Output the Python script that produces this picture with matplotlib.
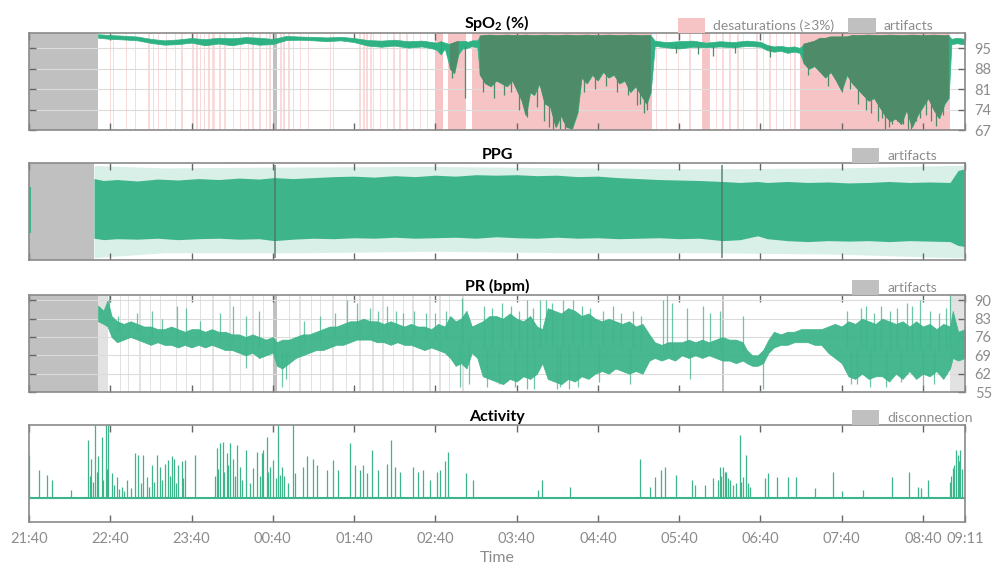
import numpy as np
import matplotlib
matplotlib.use('Agg')
import matplotlib.pyplot as plt
from matplotlib.patches import Patch

plt.rcParams['font.family'] = ['Lato', 'DejaVu Sans']
plt.rcParams['mathtext.fontset'] = 'custom'
plt.rcParams['mathtext.rm'] = 'Lato'
plt.rcParams['mathtext.bf'] = 'Lato:bold'

# time in minutes after 21:40
tick_min = [0, 60, 120, 180, 240, 300, 360, 420, 480, 540, 600, 660, 691]
tick_labels = ['21:40', '22:40', '23:40', '00:40', '01:40', '02:40', '03:40',
               '04:40', '05:40', '06:40', '07:40', '08:40', '09:11']
t_end = 691

# ---- SpO2 (upper / lower envelope)
spo2_t = [51, 60, 70, 80, 90, 100, 110, 120, 130, 140, 150, 160, 170, 180, 190, 200, 210, 220, 230, 240,
          250, 260, 270, 280, 290, 298,
          301, 304, 307, 311, 314, 317, 320, 322, 324, 327, 331, 333, 337, 341, 345, 349, 353, 357, 361, 364,
          367, 370, 373, 377, 381, 385, 389, 393, 397, 401, 405, 408, 412, 416, 420, 424, 428, 432, 436, 440,
          444, 448, 452, 456, 459,
          462, 470, 480, 490, 500, 510, 520, 530, 540, 545, 550, 555, 560, 565, 569,
          572, 576, 580, 584, 588, 592, 596, 600, 604, 608, 612, 616, 620, 624, 628, 632, 636, 640, 644, 648,
          652, 656, 660, 664, 668, 672, 676, 679,
          681, 685, 691]
spo2_hi = [99.9, 99.6, 99.4, 99.1, 98.3, 97.8, 98.1, 98.6, 98.2, 98.7, 98.5, 98.9, 98.7, 98.3, 99.3, 99.1,
           99.0, 98.8, 99.0, 98.6, 97.9, 97.7, 98.0, 97.5, 97.7, 97.2,
           97, 97.5, 97, 96.5, 97, 97.5, 97.6, 97.6, 97.3, 97.8, 97.8, 99.3, 99.5, 99.6, 99.4, 99.5, 99.6, 99.5,
           99.4, 99.5, 99.6, 99.5, 99.4, 99.5, 99.6, 99.5, 99.4, 99.5, 99.6, 99.5, 99.4, 99.5, 99.6, 99.5,
           99.4, 99.5, 99.6, 99.5, 99.4, 99.5, 99.6, 99.5, 99.4, 99.5, 99.5,
           97.7, 97.2, 97.5, 97.7, 97.0, 97.5, 97.2, 97.7, 97.3, 96.2, 95.7, 95.9, 95.5, 95.7, 95.2,
           96.5, 97, 97.5, 98.5, 98.5, 99, 99, 99, 99, 99.5, 99.4, 99.5, 99.6, 99.5, 99.4, 99.5, 99.6, 99.5,
           99.4, 99.5, 99.6, 99.5, 99.4, 99.5, 99.6, 99.5, 99.4, 99.5,
           98.3, 98.7, 98.3]
spo2_lo = [98.7, 98.3, 98.1, 97.8, 96.9, 96.3, 96.5, 97.0, 96.1, 96.7, 96.1, 96.9, 96.3, 96.5, 97.9, 98.0,
           97.8, 97.5, 97.8, 97.2, 96.0, 95.6, 96.0, 95.3, 95.7, 95.0,
           94.5, 93, 95, 88, 86.5, 93, 95.0, 95.0, 95.3, 95.8, 95.4, 86, 83, 82, 84, 83, 82, 84, 80, 77,
           72, 80, 79, 83, 76, 75, 68, 72, 68, 67.5, 73, 85, 83, 86, 84, 87, 85, 86, 83, 84,
           80, 82, 79, 76, 80,
           95.9, 95.4, 95.0, 95.6, 95.4, 95.7, 95.4, 95.9, 95.6, 94.4, 93.9, 94.2, 93.5, 93.9, 93.5,
           90, 88, 89, 87, 85, 87, 84, 80.5, 86, 83, 81, 79, 77, 78, 75, 72, 70, 71, 69, 74,
           68, 72, 75, 78, 74, 71, 76, 78,
           96.5, 96.8, 96.4]
# single deep needles inside the dense parts
spo2_dip_t = [312, 322, 335, 343, 351, 356, 362, 366, 368, 375, 380, 384, 387, 390, 392, 394, 396, 398, 400,
              403, 410, 418, 426, 434, 442, 449, 451, 454, 456,
              478, 494, 505, 521, 547,
              575, 590, 600, 606, 612, 618, 622, 627, 630, 632, 635, 637, 641, 645, 649, 651, 655, 658, 662,
              666, 670, 675]
spo2_dip_v = [85, 78, 80, 78, 79, 80, 74, 73, 71.5, 75, 70, 68, 67, 69, 67.5, 70, 67, 69, 67.2,
              71, 80, 81, 82, 80, 79, 75.5, 76, 73, 74,
              93.5, 93, 92.5, 93.5, 92,
              86, 82, 80, 81, 76, 74, 73, 70, 71, 67.5, 68, 69, 70, 69, 67.5, 67.2, 70, 71, 72,
              70, 68.5, 72]

desat_bands = [(59.5, 60.5), (62, 63), (71.5, 72.5), (78, 79), (88, 89), (91.5, 92.5), (95, 96), (101, 102),
               (107.5, 108.5), (112, 113.5), (120.5, 122), (123.5, 124.5), (126, 127), (129, 130),
               (132, 133.5), (135.5, 137), (140.5, 142), (144, 145.5), (150.5, 151.5), (155.5, 156.5),
               (161.5, 162.5), (165, 166.5), (170, 171), (175, 176), (177.5, 178.5), (185, 186.5),
               (187.5, 189), (191, 192.5), (195, 196), (200, 201), (206, 207), (222, 223), (224.5, 225.5),
               (244, 245.5), (246.5, 248), (249, 250.5), (251.5, 253), (254, 255), (259, 260), (264, 265),
               (269, 270), (273.5, 274.5), (278.5, 279.5), (283.5, 284.5), (288.5, 289.5), (293.5, 294.5),
               (300, 306), (309, 323), (327, 460),
               (463, 464), (470, 471), (479, 480), (487.5, 488.5), (497, 503), (507, 508), (512, 513),
               (517, 518), (523, 524), (527, 528), (537, 538), (542, 543), (546.5, 547.5), (551.5, 552.5),
               (556.5, 557.5), (561.5, 562.5), (565, 566), (569, 680)]
spo2_artifacts = [(0, 51), (180, 183)]

# ---- PPG (arbitrary units)
ppg_t = [48, 55, 65, 80, 95, 110, 125, 140, 155, 170, 181, 195, 210, 225, 240, 255, 270, 285, 300, 315,
         330, 345, 360, 375, 390, 405, 420, 435, 450, 465, 480, 495, 512, 525, 538, 545, 560, 575, 590, 605,
         620, 635, 650, 665, 680, 686, 691]
ppg_hi = [0.68, 0.64, 0.66, 0.63, 0.67, 0.65, 0.68, 0.66, 0.69, 0.67, 0.70, 0.68, 0.7, 0.72, 0.73, 0.71,
          0.74, 0.72, 0.75, 0.73, 0.76, 0.75, 0.76, 0.74, 0.75, 0.72, 0.73, 0.7, 0.68, 0.66, 0.65, 0.64,
          0.62, 0.6, 0.62, 0.6, 0.62, 0.6, 0.61, 0.59, 0.6, 0.62, 0.6, 0.61, 0.6, 0.85, 0.88]
ppg_lo = [-0.55, -0.58, -0.56, -0.57, -0.55, -0.58, -0.56, -0.55, -0.57, -0.56, -0.6, -0.57, -0.55, -0.56,
          -0.54, -0.55, -0.53, -0.55, -0.54, -0.53, -0.55, -0.52, -0.54, -0.55, -0.53, -0.55, -0.54, -0.56,
          -0.55, -0.54, -0.56, -0.55, -0.6, -0.58, -0.5, -0.56, -0.6, -0.62, -0.6, -0.61, -0.6, -0.62,
          -0.6, -0.61, -0.62, -0.7, -0.72]
ppg_out_t = [48, 100, 200, 300, 400, 500, 600, 680, 691]
ppg_out_hi = [0.95, 0.9, 0.92, 0.93, 0.9, 0.88, 0.9, 0.95, 0.95]
ppg_out_lo = [-0.95, -0.85, -0.85, -0.82, -0.85, -0.85, -0.88, -0.95, -0.95]
ppg_first = (0.6, -0.45, 0.5)
ppg_artifacts = [(0, 48)]
ppg_dark = [181.5, 512]

# ---- PR (bpm)
pr_t = [51, 55, 58, 61, 65, 70, 75, 80, 85, 90, 95, 100, 105, 110, 115, 120, 125, 130, 135, 140, 145, 150,
        155, 160, 165, 170, 175, 180, 183, 187, 192, 197, 202, 207, 212, 217, 222, 227, 232, 237, 242, 247,
        252, 257, 262, 267, 272, 277, 282, 287, 292, 297, 302, 307, 311, 315, 319, 323, 327, 331, 335, 340,
        345, 350, 355, 360, 365, 370, 375, 379, 383, 388, 393, 398, 403, 408, 413, 418, 423, 428, 433, 438,
        443, 448, 453, 458, 462, 467, 472, 477, 482, 487, 492, 497, 502, 507, 512, 517, 522, 527, 530, 534,
        538, 542, 546, 550, 555, 560, 565, 570, 575, 580, 585, 590, 595, 600, 605, 610, 615, 620, 625, 630,
        635, 640, 645, 650, 655, 660, 665, 670, 675, 680, 682, 686, 691]
pr_lo = [82, 81, 80, 76, 74, 75, 76, 75, 74, 73, 74, 73, 73, 72, 73, 72, 73, 72, 73, 72, 71, 71, 70, 69, 70,
         68, 69, 70, 65, 64, 66, 68, 69, 70, 71, 71, 72, 73, 73, 74, 75, 75, 75, 74, 74, 73, 74, 73, 73, 72,
         71, 72, 71, 70, 68, 65, 66, 64, 70, 68, 61, 60, 59, 58, 60, 59, 61, 60, 62, 66, 60, 59, 58, 60, 59,
         61, 60, 62, 63, 62, 64, 63, 62, 63, 62, 67, 68, 67, 68, 67, 69, 68, 69, 68, 69, 68, 67, 67, 66, 67,
         66, 65, 65, 66, 70, 72, 73, 73, 74, 74, 74, 73, 73, 70, 68, 66, 61, 60, 62, 60, 61, 61, 59, 62, 60,
         63, 60, 62, 61, 63, 60, 64, 68, 67, 68]
pr_hi = [88, 86, 90, 84, 82, 81, 82, 81, 80, 80, 79, 79, 80, 79, 78, 79, 79, 78, 79, 78, 78, 77, 77, 76, 77,
         76, 75, 76, 74, 75, 75, 76, 77, 77, 78, 79, 80, 80, 81, 82, 82, 83, 82, 82, 81, 82, 81, 80, 81, 80,
         80, 79, 81, 80, 84, 82, 83, 86, 80, 81, 82, 84, 84, 83, 85, 83, 82, 84, 80, 79, 87, 86, 85, 87, 86,
         84, 85, 83, 82, 83, 82, 81, 82, 80, 81, 77, 74, 73, 74, 74, 74, 75, 74, 75, 74, 75, 76, 75, 75, 74,
         71, 69, 69, 71, 75, 78, 77, 78, 78, 79, 79, 79, 79, 80, 81, 80, 82, 81, 83, 82, 81, 83, 82, 81, 82,
         80, 82, 80, 81, 79, 81, 80, 86, 78, 79]
pr_spike_t = [59, 80, 90.5, 109, 116, 141, 151, 160, 170, 234.5, 242, 264, 271, 284, 293,
              160.5, 186.5, 190, 325, 320, 367.5, 377, 382, 401.5, 318, 368, 389.7, 399,
              468, 471, 475, 485.6, 497.5, 502.6, 510, 527, 488, 542,
              618, 648, 658, 680, 611, 660,
              66, 98, 126, 203, 215, 226, 252, 258, 276, 300, 308,
              336, 342, 349, 356, 362, 372, 386, 394, 408, 414, 424, 431, 437, 446, 452,
              604, 614, 624, 629, 636, 641, 652, 665, 672, 677,
              338, 347, 359, 373, 392, 405, 421, 444, 607, 621, 633, 644, 668]
pr_spike_v = [92, 85, 86, 88, 87, 85, 88, 84, 86, 90, 89, 88, 86, 86, 85,
              64, 57, 60, 58, 91, 90, 90, 90, 90, 57, 56, 56, 56,
              90, 92, 89, 87, 88, 85, 86, 84, 60, 56,
              88, 89, 90, 92, 58, 57,
              84, 83, 82, 82, 84, 85, 87, 86, 85, 85, 86,
              88, 87, 89, 88, 86, 87, 89, 90, 88, 87, 86, 88, 85, 86, 84,
              86, 87, 85, 88, 86, 87, 88, 86, 85, 87,
              57, 58, 57, 56, 57, 57, 59, 58, 58, 57, 57, 59, 58]
pr_artifacts = [(0, 51), (180, 183), (511.5, 513)]
pr_light = [(51, 58), (67, 68), (73, 74), (81.5, 82.5), (89, 90), (96.5, 97.5), (108.5, 109.5), (116, 117),
            (126, 127), (135.5, 136.5), (147.5, 149.5), (155.5, 156.5), (165, 166), (172.5, 173.5),
            (192, 193), (199.5, 200.5), (208, 209), (214.5, 215.5), (224, 225), (234, 235), (244, 245),
            (253.5, 254.5), (261, 262), (268.5, 269.5), (276, 277), (283, 284), (295.5, 296.5),
            (303, 304), (310, 311), (320, 321), (680, 690)]

# ---- Activity (arbitrary units, baseline 0)
act_t = [0.2, 7.6, 13.0, 16.7, 31.0, 43.8, 45.5, 48.7, 51.2, 53.6, 56.8, 58.6, 61.0, 64.7, 68.4, 72.1, 78.2,
         80.7, 84.4, 86.9, 90.5, 94.7, 96.7, 100.4, 102.8, 105.3, 107.0, 110.2, 112.7, 115.2, 122.5, 138.5,
         141.0, 142.9, 145.9, 148.4, 150.8, 153.8, 155.7, 160.6, 165.6, 168.0, 171.7, 173.0, 175.4, 177.9,
         180.3, 184.0, 186.5, 194.6, 196.3, 202.5, 205.0, 209.9, 212.3, 219.7, 224.6, 228.3, 236.9, 240.6,
         244.3, 246.8, 249.2, 252.9, 257.8, 264.0, 267.6, 270.1, 273.8, 283.6, 287.3, 291.0, 296.0, 300.9,
         303.4, 307.1, 309.5, 323.0, 328.0,
         375.9, 379.1, 399.2, 450.9, 458.3, 462.0, 466.9, 469.4, 477.5, 489.5, 491.5, 498.9, 505.0, 509.9,
         512.4, 514.9, 517.3, 521.8, 524.7, 527.2, 529.1, 532.1, 543.2, 545.6, 552.3, 560.4, 566.0, 580.1,
         593.6, 600.5, 615.7, 637.4, 649.7, 656.3, 658.8, 663.7, 679.7, 682.1, 684.6, 685.8, 687.6, 690.8,
         # denser small movements inside the busy stretches
         44.8, 47.2, 50.0, 55.0, 57.7, 63.0, 66.5, 70.2, 75.5, 82.5, 88.5, 92.5, 98.5, 104.0, 108.8, 114.0,
         137.2, 139.8, 144.2, 147.0, 152.3, 157.5, 163.0, 170.2, 176.6, 182.5, 185.3, 188.0, 191.2,
         508.5, 511.0, 513.6, 516.0, 519.5, 526.0, 530.5, 681.0, 683.3, 686.8, 689.0]
act_h = [0.59, 0.38, 0.32, 0.25, 0.11, 0.79, 0.54, 1.0, 0.57, 0.84, 1.0, 1.0, 0.34, 0.29, 0.15, 0.25, 0.61,
         0.59, 0.59, 0.29, 0.45, 0.59, 0.43, 0.47, 0.52, 0.57, 0.54, 0.45, 0.50, 0.52, 0.59, 0.68,
         0.75, 0.77, 0.61, 0.75, 0.54, 0.73, 0.43, 0.66, 0.41, 0.63, 0.61, 0.66, 0.83, 0.43,
         0.52, 1.0, 0.43, 1.0, 0.34, 0.43, 0.57, 0.54, 0.45, 0.38, 0.52, 0.38, 0.75, 0.45,
         0.38, 0.45, 0.34, 0.66, 0.38, 0.47, 0.79, 0.43, 0.36, 0.43, 0.36, 0.38, 0.25, 0.36,
         0.38, 0.50, 0.63, 0.34, 0.25,
         0.11, 0.25, 0.15, 0.54, 0.15, 0.29, 0.38, 0.43, 0.32, 0.25, 0.18, 0.18, 0.27, 0.43,
         0.43, 0.36, 0.25, 0.20, 0.86, 0.29, 0.59, 0.15, 0.27, 0.34, 0.29, 0.29, 0.29, 0.13,
         0.36, 0.09, 0.11, 0.29, 0.36, 0.15, 0.13, 0.25, 0.22, 0.41, 0.66, 0.59, 0.66, 0.66,
         0.30, 0.22, 0.35, 0.25, 0.40, 0.18, 0.12, 0.10, 0.14, 0.20, 0.15, 0.22, 0.25, 0.30, 0.20, 0.28,
         0.30, 0.40, 0.35, 0.45, 0.30, 0.25, 0.20, 0.30, 0.35, 0.28, 0.32, 0.30, 0.20,
         0.25, 0.30, 0.35, 0.28, 0.18, 0.22, 0.20, 0.30, 0.45, 0.50, 0.40]

green = '#3db489'
dark_green = '#4e8c69'
pink = '#f6c4c4'
gray = '#c0c0c0'
light_gray = '#e2e2e2'
txt_gray = '#8c8c8c'

fig = plt.figure(figsize=(9.92, 5.67), dpi=100)
left, width, height = 0.0292, 0.9435, 0.171
ax1 = fig.add_axes([left, 0.7707, width, height])
ax2 = fig.add_axes([left, 0.5414, width, height])
ax3 = fig.add_axes([left, 0.3086, width, height])
ax4 = fig.add_axes([left, 0.0794, width, height])


def style(ax, title, yticks=None):
    ax.set_xlim(0, t_end)
    for s in ax.spines.values():
        s.set_color('#8a8a8a')
        s.set_linewidth(1.2)
    ax.set_xticks(tick_min)
    ax.set_xticklabels(tick_labels)
    ax.tick_params(axis='x', direction='in', top=True, bottom=True, length=5, width=1,
                   color='#666666', labelbottom=False, labelsize=10.5, labelcolor=txt_gray, pad=7)
    if yticks is None:
        ax.set_yticks([])
    else:
        ax.set_yticks(yticks)
        ax.tick_params(axis='y', direction='in', left=True, right=True, labelleft=False,
                       labelright=True, length=5, width=1, color='#666666',
                       labelsize=10.5, labelcolor=txt_gray, pad=7)
        ax.grid(axis='y', color='#dcdcdc', lw=0.8)
        ax.set_axisbelow(True)
    ax.set_title(title, fontweight='bold', fontsize=11.5, pad=3)


def legend(ax, items, x0):
    handles = [Patch(facecolor=c, edgecolor='none', label=l) for c, l in items]
    ax.legend(handles=handles, loc='lower left', bbox_to_anchor=(x0, 1.0), ncol=len(items),
              frameon=False, borderaxespad=0, borderpad=0, handlelength=2.0, handleheight=1.3,
              handletextpad=0.55, columnspacing=1.0, prop={'size': 10},
              labelcolor=txt_gray)


# SpO2
for a, b in desat_bands:
    thin = (b - a) < 3
    ax1.axvspan(a, b, color=pink, lw=0, alpha=0.6 if thin else 1.0, zorder=0)
for a, b in spo2_artifacts:
    ax1.axvspan(a, b, color=gray, lw=0, zorder=0)
st = np.array(spo2_t)
hi = np.array(spo2_hi)
lo = np.array(spo2_lo)
ax1.fill_between(st, lo, hi, color='#2fb283', lw=0.5, zorder=2)
ax1.fill_between(st, lo, hi, where=(hi - lo) > 4, color=dark_green, lw=0.5, zorder=2)
ax1.vlines(spo2_dip_t, spo2_dip_v, 96, color=dark_green, lw=0.9, zorder=2)
ax1.set_ylim(67, 100.3)
style(ax1, r'SpO$_{\mathbf{2}}$ (%)', [67, 74, 81, 88, 95])
legend(ax1, [(pink, 'desaturations (≥3%)'), (gray, 'artifacts')], 0.693)

# PPG
for a, b in ppg_artifacts:
    ax2.axvspan(a, b, color=gray, lw=0, zorder=0)
ax2.fill_between(ppg_out_t, ppg_out_lo, ppg_out_hi, color=green, alpha=0.2, lw=0, zorder=1)
ax2.fill_between(ppg_t, ppg_lo, ppg_hi, color=green, lw=0, zorder=2)
ax2.vlines(ppg_first[0], ppg_first[1], ppg_first[2], color=green, lw=1.5, zorder=2)
ax2.vlines(ppg_dark, -0.95, 0.95, color='#4f7565', lw=1.4, alpha=0.7, zorder=3)
ax2.set_ylim(-1, 1)
style(ax2, 'PPG')
legend(ax2, [(gray, 'artifacts')], 0.879)

# PR
for a, b in pr_light:
    ax3.axvspan(a, b, color=light_gray, lw=0, zorder=0)
for a, b in pr_artifacts:
    ax3.axvspan(a, b, color=gray, lw=0, zorder=0)
pt = np.array(pr_t)
mid = (np.array(pr_lo) + np.array(pr_hi)) / 2
ax3.fill_between(pt, pr_lo, pr_hi, color=green, lw=0.5, alpha=0.95, zorder=2)
ax3.vlines(pr_spike_t, np.interp(pr_spike_t, pt, mid), pr_spike_v, color=green, lw=0.9, alpha=0.75,
           zorder=2)
ax3.set_ylim(55, 92)
style(ax3, 'PR (bpm)', [55, 62, 69, 76, 83, 90])
legend(ax3, [(gray, 'artifacts')], 0.879)

# Activity
ax4.hlines(0, 0, t_end, color=green, lw=1.5, zorder=2)
ax4.vlines(act_t, 0, act_h, color=green, lw=0.9, zorder=2)
ax4.set_ylim(-0.33, 1.0)
style(ax4, 'Activity')
ax4.tick_params(axis='x', labelbottom=True)
ax4.set_xlabel('Time', fontsize=11.5, color=txt_gray, labelpad=4)
legend(ax4, [(gray, 'disconnection')], 0.879)

fig.savefig('out.png', dpi=100, facecolor='white')
